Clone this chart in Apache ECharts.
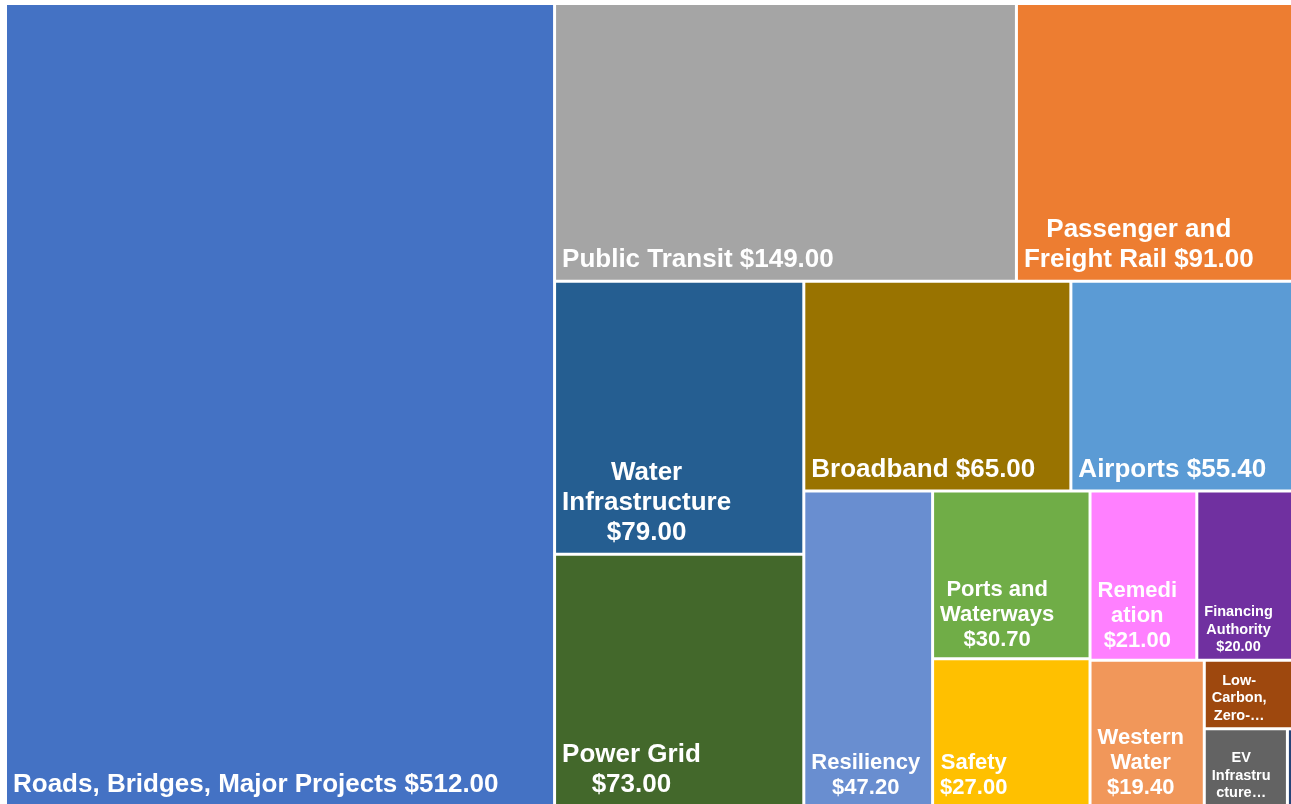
<!DOCTYPE html>
<html>
<head>
<meta charset="utf-8">
<script src="https://cdn.jsdelivr.net/npm/echarts@6/dist/echarts.min.js"></script>
<style>
  html, body { margin: 0; padding: 0; background: #fff; }
  #chart { width: 1291px; height: 804px; }
</style>
</head>
<body>
<div id="chart"></div>
<script>
// Bipartisan infrastructure spending, $ billions
// (ties are laid out later-index first by echarts, so EV comes before Low-Carbon here)
const names = [
  'Roads, Bridges, Major Projects', 'Public Transit', 'Passenger and Freight Rail',
  'Water Infrastructure', 'Power Grid', 'Broadband', 'Airports', 'Resiliency',
  'Ports and Waterways', 'Safety', 'Remediation', 'Financing Authority',
  'Western Water', 'EV Infrastructure', 'Low-Carbon, Zero-Emission Buses',
  'Reconnecting Communities'
];
const values = [512, 149, 91, 79, 73, 65, 55.4, 47.2, 30.7, 27, 21, 20, 19.4, 7.5, 7.5, 1];

// label text as wrapped in the picture, {v} is the value
const labelText = [
  'Roads, Bridges, Major Projects {v}', 'Public Transit {v}', 'Passenger and\nFreight Rail {v}',
  'Water\nInfrastructure\n{v}', 'Power Grid\n{v}', 'Broadband {v}', 'Airports {v}', 'Resiliency\n{v}',
  'Ports and\nWaterways\n{v}', 'Safety\n{v}', 'Remedi\nation\n{v}', 'Financing\nAuthority\n{v}',
  'Western\nWater\n{v}', 'EV\nInfrastru\ncture…', 'Low-\nCarbon,\nZero-…', ''
];

const colors = [
  '#4472C4', '#A5A5A5', '#ED7D31', '#255E91', '#43682B', '#997300', '#5B9BD5', '#698ED0',
  '#70AD47', '#FFC000', '#FF80FF', '#7030A0', '#F1975A', '#636363', '#9E480E', '#264478'
];

const labelTier = ['l', 'l', 'l', 'l', 'l', 'l', 'l', 'm', 'm', 'm', 'm', 's', 'm', 's', 's', ''];
const tiers = {
  l: { fontSize: 26, lineHeight: 30, dy: 1 },
  m: { fontSize: 22, lineHeight: 25, dy: 1 },
  s: { fontSize: 14.5, lineHeight: 17.5, dy: 3 }
};
const FONT = 'Liberation Sans';

const money = v => '$' + v.toFixed(2);
const ctx = document.createElement('canvas').getContext('2d');

// lines are centred on each other, the block sits bottom-left in its cell
function blockWidth(text, size) {
  ctx.font = 'bold ' + size + 'px "' + FONT + '"';
  return Math.max(...text.split('\n').map(l => ctx.measureText(l).width));
}

const data = names.map((name, i) => {
  const tier = tiers[labelTier[i]];
  if (!tier) {
    return { name, value: values[i], itemStyle: { color: colors[i] }, label: { show: false } };
  }
  const text = labelText[i].replace('{v}', money(values[i]));
  return {
    name: name,
    value: values[i],
    itemStyle: { color: colors[i] },
    label: {
      show: true,
      fontSize: tier.fontSize,
      lineHeight: tier.lineHeight,
      offset: [blockWidth(text, tier.fontSize) / 2, tier.dy]
    }
  };
});

const chart = echarts.init(document.getElementById('chart'));
chart.setOption({
  backgroundColor: '#ffffff',
  animation: false,
  series: [{
    type: 'treemap',
    left: 7,
    top: 5,
    width: 1290,
    height: 800,
    squareRatio: 1 / 1.1993,
    roam: false,
    nodeClick: false,
    breadcrumb: { show: false },
    itemStyle: { gapWidth: 3, borderWidth: 0, borderColor: '#fff' },
    label: {
      show: true,
      position: 'insideBottomLeft',
      distance: 6,
      padding: 0,
      align: 'center',
      overflow: 'none',
      color: '#fff',
      fontWeight: 'bold',
      fontFamily: FONT,
      formatter: p => {
        const i = names.indexOf(p.name);
        if (i < 0 || !labelText[i]) return '';
        return labelText[i].replace('{v}', money(values[i]));
      }
    },
    data: data
  }]
});
</script>
</body>
</html>
